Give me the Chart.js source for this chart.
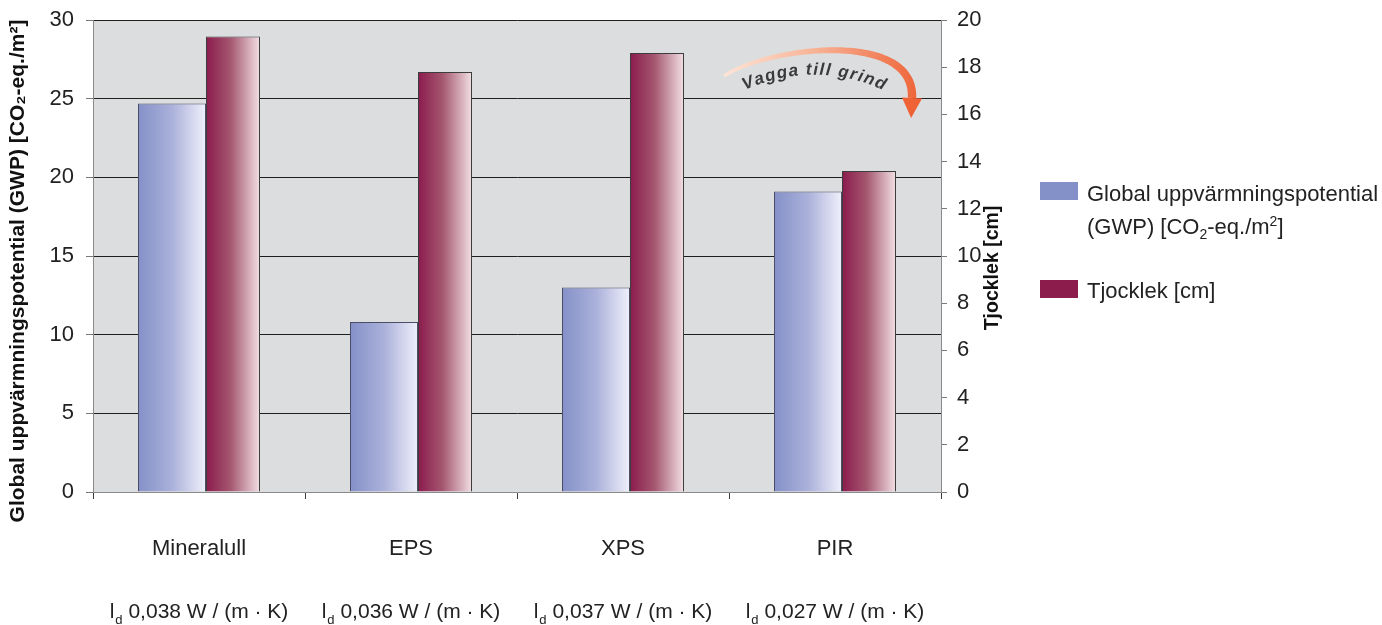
<!DOCTYPE html>
<html>
<head>
<meta charset="utf-8">
<script src="https://cdn.jsdelivr.net/npm/chart.js@4.4.1/dist/chart.umd.min.js"></script>
<style>
  html, body { margin: 0; padding: 0; background: #ffffff; }
  #wrap { position: relative; width: 1382px; height: 625px; }
  #legend { position: absolute; left: 1040px; top: 0; font: 22px "Liberation Sans", Arial, sans-serif; color: #222; }
  .sw { position: absolute; left: 0; width: 38px; height: 18px; }
  .txt { position: absolute; left: 47px; width: 300px; line-height: 33px; }
  sub, sup { font-size: 14px; line-height: 0; }
</style>
</head>
<body>
<div id="wrap">
  <canvas id="chart" width="1382" height="625"></canvas>
  <div id="legend"></div>
</div>
<script>
// Insulation materials compared: climate impact and required thickness
const categories = ['Mineralull', 'EPS', 'XPS', 'PIR'];
const conductivity = ['0,038', '0,036', '0,037', '0,027'];
const gwpValues = [24.7, 10.8, 13.0, 19.1];          // CO2-eq./m2
const thicknessValues = [19.3, 17.8, 18.6, 13.6];    // cm
const seriesNames = ['Global uppvärmningspotential (GWP) [CO₂-eq./m²]', 'Tjocklek [cm]'];
const axisTitles = ['Global uppvärmningspotential (GWP) [CO₂-eq./m²]', 'Tjocklek [cm]'];
const gwpAxis = [0, 30, 5];         // min, max, step
const thicknessAxis = [0, 20, 2];   // min, max, step
const annotationText = 'Vagga till grind';

const FONT = '"Liberation Sans", Arial, sans-serif';
const swatchColors = ['#8490c8', '#8c1c4c'];
const shades = [
  [[0, '#8490c8'], [0.5, '#aab1da'], [1, '#f0f0fb']],
  [[0, '#8b1b4d'], [0.45, '#a4566f'], [1, '#f2e0e5']]
];

// gray plotting area
const plotBg = {
  id: 'plotBg',
  beforeDraw(chart) {
    const { ctx, chartArea: a } = chart;
    ctx.save();
    ctx.fillStyle = '#dcdddf';
    ctx.fillRect(a.left, a.top, a.right - a.left, a.bottom - a.top);
    ctx.restore();
  }
};

// horizontal light-to-dark shading on every bar
const barShade = {
  id: 'barShade',
  beforeDatasetsDraw(chart) {
    chart.data.datasets.forEach((ds, i) => {
      chart.getDatasetMeta(i).data.forEach(el => {
        const { x, width } = el.getProps(['x', 'width'], true);
        const g = chart.ctx.createLinearGradient(x - width / 2, 0, x + width / 2, 0);
        shades[i].forEach(([p, c]) => g.addColorStop(p, c));
        el.options = Object.assign({}, el.options, { backgroundColor: g });
      });
    });
  }
};

// vertical axis titles, both reading bottom-to-top
const sideTitles = {
  id: 'sideTitles',
  afterDraw(chart) {
    const { ctx, chartArea: a } = chart;
    const mid = (a.top + a.bottom) / 2;
    ctx.save();
    ctx.fillStyle = '#111';
    ctx.textAlign = 'center';
    ctx.textBaseline = 'alphabetic';
    [[24, mid + 15, axisTitles[0], 21], [998, mid + 12, axisTitles[1], 19.5]].forEach(([x, y, t, size]) => {
      ctx.save();
      ctx.font = 'bold ' + size + 'px ' + FONT;
      ctx.translate(x, y);
      ctx.rotate(-Math.PI / 2);
      ctx.fillText(t, 0, 0);
      ctx.restore();
    });
    ctx.restore();
  }
};

// second label row: design conductivity under each material
const lambdaRow = {
  id: 'lambdaRow',
  afterDraw(chart) {
    const { ctx } = chart;
    const xs = chart.scales.x;
    const base = 618;
    ctx.save();
    ctx.fillStyle = '#222';
    ctx.textBaseline = 'alphabetic';
    ctx.textAlign = 'left';
    conductivity.forEach((v, i) => {
      const main = ' ' + v + ' W / (m · K)';
      ctx.font = '21px ' + FONT;
      const wl = ctx.measureText('l').width;
      const wm = ctx.measureText(main).width;
      ctx.font = '13px ' + FONT;
      const wd = ctx.measureText('d').width;
      const total = wl + 1 + wd + wm;
      let x = xs.getPixelForValue(i) - total / 2;
      ctx.font = '21px ' + FONT;
      ctx.fillText('l', x, base);
      x += wl + 1;
      ctx.font = '13px ' + FONT;
      ctx.fillText('d', x, base + 6);
      x += wd;
      ctx.font = '21px ' + FONT;
      ctx.fillText(main, x, base);
    });
    ctx.restore();
  }
};

// curved "cradle to gate" arrow with its caption
const lifeArrow = {
  id: 'lifeArrow',
  afterDraw(chart) {
    const { ctx } = chart;
    const P0 = [724, 76], P1 = [770, 46], P2 = [915, 30], P3 = [912, 98];
    const bez = t => {
      const u = 1 - t;
      return [0, 1].map(k => u * u * u * P0[k] + 3 * u * u * t * P1[k] + 3 * u * t * t * P2[k] + t * t * t * P3[k]);
    };
    const der = t => {
      const u = 1 - t;
      return [0, 1].map(k => 3 * u * u * (P1[k] - P0[k]) + 6 * u * t * (P2[k] - P1[k]) + 3 * t * t * (P3[k] - P2[k]));
    };
    const N = 90, sideA = [], sideB = [];
    for (let k = 0; k <= N; k++) {
      const t = k / N, p = bez(t), d = der(t);
      const len = Math.hypot(d[0], d[1]);
      const n = [-d[1] / len, d[0] / len];
      const w = (3.5 + 5 * t) / 2;
      sideA.push([p[0] + n[0] * w, p[1] + n[1] * w]);
      sideB.push([p[0] - n[0] * w, p[1] - n[1] * w]);
    }
    ctx.save();
    const g = ctx.createLinearGradient(724, 0, 922, 0);
    g.addColorStop(0, '#fde4d6');
    g.addColorStop(0.45, '#f8b497');
    g.addColorStop(1, '#ee6236');
    ctx.fillStyle = g;
    ctx.beginPath();
    ctx.moveTo(sideA[0][0], sideA[0][1]);
    sideA.forEach(p => ctx.lineTo(p[0], p[1]));
    sideB.slice().reverse().forEach(p => ctx.lineTo(p[0], p[1]));
    ctx.closePath();
    ctx.fill();
    // head
    const d = der(1), len = Math.hypot(d[0], d[1]);
    const u = [d[0] / len, d[1] / len], n = [-u[1], u[0]];
    ctx.fillStyle = '#ee6236';
    ctx.beginPath();
    ctx.moveTo(P3[0] + u[0] * 20, P3[1] + u[1] * 20);
    ctx.lineTo(P3[0] + n[0] * 10, P3[1] + n[1] * 10);
    ctx.lineTo(P3[0] - n[0] * 10, P3[1] - n[1] * 10);
    ctx.closePath();
    ctx.fill();
    // caption on an arc
    const cx = 814, cy = 238, R = 168, ls = 1.6;
    ctx.font = 'italic bold 17px ' + FONT;
    ctx.fillStyle = '#3a3a3a';
    ctx.textAlign = 'center';
    ctx.textBaseline = 'middle';
    const chars = annotationText.split('');
    const widths = chars.map(c => ctx.measureText(c).width);
    const total = widths.reduce((s, w) => s + w, 0) + ls * (chars.length - 1);
    let ang = -Math.PI / 2 - total / (2 * R);
    chars.forEach((c, i) => {
      const a = ang + widths[i] / 2 / R;
      ctx.save();
      ctx.translate(cx + R * Math.cos(a), cy + R * Math.sin(a));
      ctx.rotate(a + Math.PI / 2);
      ctx.fillText(c, 0, 0);
      ctx.restore();
      ang += (widths[i] + ls) / R;
    });
    ctx.restore();
  }
};

const tickFont = { family: FONT, size: 22 };
// keep the plot area edges fixed; tick labels may overhang
const trimPadding = s => { s.paddingTop = 8; s.paddingBottom = 8; };

new Chart(document.getElementById('chart'), {
  type: 'bar',
  data: {
    labels: categories,
    datasets: [
      {
        label: seriesNames[0],
        data: gwpValues,
        yAxisID: 'y',
        backgroundColor: swatchColors[0],
        borderColor: '#4a4e66',
        borderWidth: 1,
        categoryPercentage: 108 / 212,
        barPercentage: 68 / 54
      },
      {
        label: seriesNames[1],
        data: thicknessValues,
        yAxisID: 'y1',
        backgroundColor: swatchColors[1],
        borderColor: '#3d3d3d',
        borderWidth: 1,
        categoryPercentage: 136 / 212,
        barPercentage: 54 / 68
      }
    ]
  },
  options: {
    responsive: false,
    animation: false,
    devicePixelRatio: 1,
    layout: { padding: { top: 20, right: 352, left: 0, bottom: 0 } },
    plugins: { legend: { display: false }, tooltip: { enabled: false } },
    scales: {
      x: {
        offset: true,
        grid: { drawOnChartArea: false, drawTicks: true, tickLength: 7, tickColor: '#3a3a3a', offset: true },
        border: { color: '#8a8a8a' },
        ticks: { color: '#222', font: tickFont, padding: 37, maxRotation: 0, autoSkip: false },
        afterFit(s) { s.height = 133; s.paddingLeft = 0; s.paddingRight = 0; }
      },
      y: {
        position: 'left',
        min: gwpAxis[0], max: gwpAxis[1],
        ticks: { stepSize: gwpAxis[2], color: '#222', font: tickFont, padding: 12 },
        grid: {
          color: c => (c.tick && c.tick.value === 0) ? 'rgba(0,0,0,0)' : '#1e1e1e',
          tickColor: '#7a7a7a', tickLength: 7
        },
        border: { color: '#8a8a8a' },
        afterFit(s) { s.width = 93; trimPadding(s); }
      },
      y1: {
        position: 'right',
        min: thicknessAxis[0], max: thicknessAxis[1],
        ticks: { stepSize: thicknessAxis[2], color: '#222', font: tickFont, padding: 10 },
        grid: { drawOnChartArea: false, tickColor: '#7a7a7a', tickLength: 6 },
        border: { color: '#8a8a8a' },
        afterFit(s) { s.width = 89; trimPadding(s); }
      }
    }
  },
  plugins: [plotBg, barShade, sideTitles, lambdaRow, lifeArrow]
});

// legend beside the chart
const legendTops = [[182, 177], [280, 274]];
const esc = s => s.replace(/₂/g, '<sub>2</sub>').replace(/²/g, '<sup>2</sup>');
document.getElementById('legend').innerHTML = seriesNames.map((n, i) =>
  `<div class="sw" style="top:${legendTops[i][0]}px;background:${swatchColors[i]}"></div>` +
  `<div class="txt" style="top:${legendTops[i][1]}px">${esc(n)}</div>`
).join('');
</script>
</body>
</html>
